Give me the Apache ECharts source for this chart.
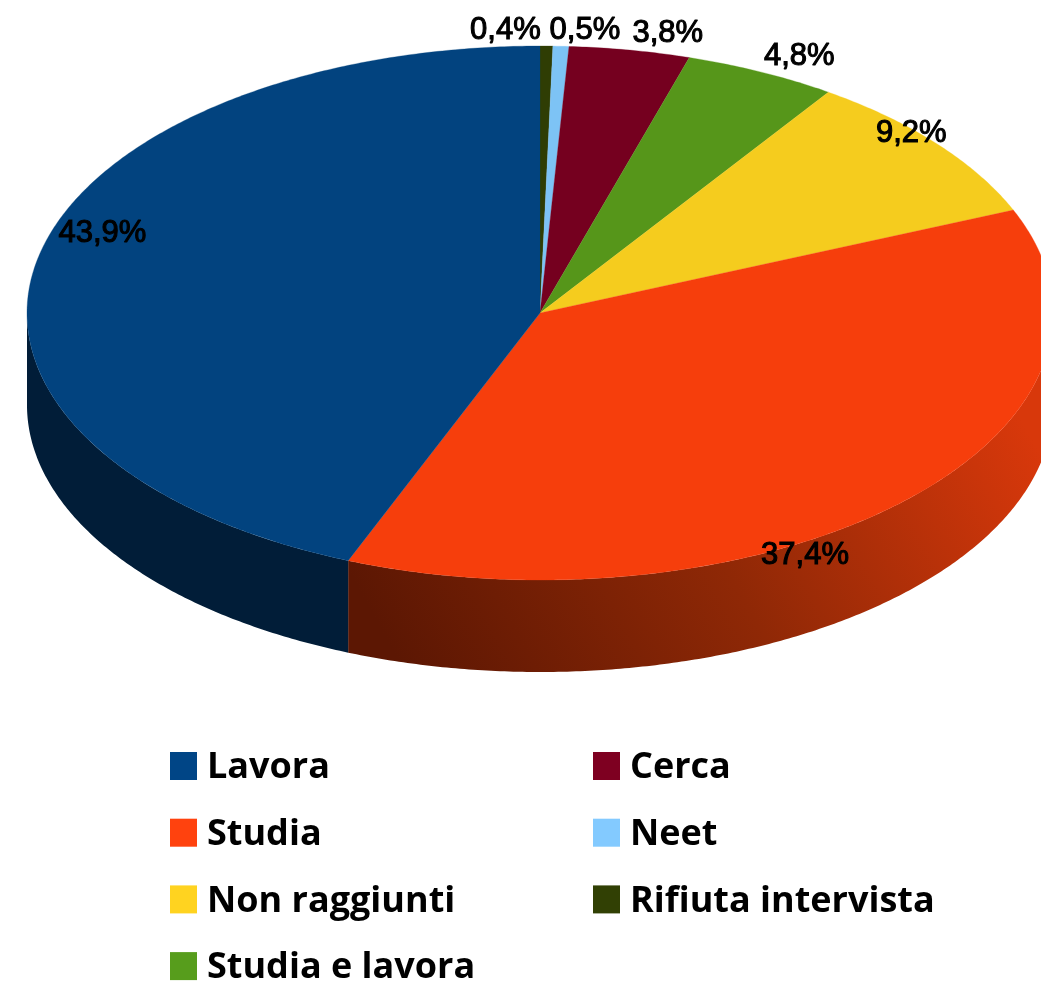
<!DOCTYPE html>
<html>
<head>
<meta charset="utf-8">
<style>html,body{margin:0;padding:0;background:#fff}#c{width:1041px;height:986px}</style>
<script src="https://cdn.jsdelivr.net/npm/echarts@6/dist/echarts.min.js"></script>
</head>
<body>
<div id="c"></div>
<script>
// Data, clockwise from 12 o'clock
const categories = ['Rifiuta intervista', 'Neet', 'Cerca', 'Studia e lavora', 'Non raggiunti', 'Studia', 'Lavora'];
const shares = [0.4, 0.5, 3.8, 4.8, 9.2, 37.4, 43.9];
const labels = ['0,4%', '0,5%', '3,8%', '4,8%', '9,2%', '37,4%', '43,9%'];
// Styles
const legendColors = ['#314004', '#83caff', '#7e0021', '#579d1c', '#ffd320', '#ff420e', '#004586'];
const topColors = ['#2f3d04', '#7dc3f5', '#75001f', '#56961a', '#f5cc1e', '#f63e0c', '#02437f'];
const wallColors = ['#1c2402', '#4a7391', '#450012', '#325a0f', '#917812', {
  type: 'linear', global: true, x: 420, y: 700, x2: 1000, y2: 380,
  colorStops: [{offset: 0, color: '#5c1703'}, {offset: 0.5, color: '#8f2806'}, {offset: 1, color: '#d8380b'}]
}, '#011d38'];
const labelNudgeX = [-41, 24, 38, 38, -26, -100, 66];
const labelNudgeY = [-16, -16, -17, -16, -11, 55, -29];
const legendLeft = ['Lavora', 'Studia', 'Non raggiunti', 'Studia e lavora'];
const legendRight = ['Cerca', 'Neet', 'Rifiuta intervista'];

// Pie geometry
const CX = 540, CY = 313, RX = 513, RY = 267, DEPTH = 92;
const total = shares.reduce((a, b) => a + b, 0);
const starts = shares.map((_, i) => shares.slice(0, i).reduce((a, b) => a + b, 0));

function pt(deg, dy) {
  const r = deg * Math.PI / 180;
  return [CX + RX * Math.sin(r), CY - RY * Math.cos(r) + (dy || 0)];
}
function arc(a0, a1, dy) {
  const out = [], n = Math.max(2, Math.ceil(Math.abs(a1 - a0) / 0.5));
  for (let k = 0; k <= n; k++) out.push(pt(a0 + (a1 - a0) * k / n, dy));
  return out;
}

function renderSlice(params, api) {
  const i = params.seriesIndex;
  const a0 = api.value(0) / total * 360;
  const a1 = a0 + api.value(1) / total * 360;
  const children = [];
  const w0 = Math.max(a0, 90), w1 = Math.min(a1, 270);
  if (w1 > w0) {
    children.push({
      type: 'polygon', z2: 1, silent: true,
      shape: {points: arc(w0, w1, 0).concat(arc(w1, w0, DEPTH))},
      style: {fill: wallColors[i], stroke: null}
    });
  }
  children.push({
    type: 'polygon', z2: 5, silent: true,
    shape: {points: [[CX, CY]].concat(arc(a0, a1, 0))},
    style: {fill: topColors[i], stroke: topColors[i], lineWidth: 0.3}
  });
  const m = pt((a0 + a1) / 2, 0);
  children.push({
    type: 'text', z2: 10, silent: true,
    x: m[0] + labelNudgeX[i], y: m[1] + labelNudgeY[i],
    style: {
      text: labels[i], fill: '#000', font: '31px "Liberation Sans"',
      stroke: '#000', lineWidth: 1.1,
      textAlign: 'center', textVerticalAlign: 'middle'
    }
  });
  return {type: 'group', children};
}

const legendFont = {fontFamily: '"Open Sans"', fontWeight: 'bold', fontSize: 36, color: '#000'};
const legendBase = {
  orient: 'vertical', itemWidth: 27, itemHeight: 28, itemGap: 30.7, icon: 'rect',
  selectedMode: false, padding: 0, height: 300,
  formatter: '{a|{name}}',
  textStyle: Object.assign({}, legendFont, {
    rich: {a: Object.assign({}, legendFont, {padding: [4, 0, 0, 5]})}
  })
};

const chart = echarts.init(document.getElementById('c'), null, {renderer: 'canvas'});
chart.setOption({
  animation: false,
  backgroundColor: '#fff',
  tooltip: {show: false},
  legend: [
    Object.assign({}, legendBase, {left: 170, top: 750, data: legendLeft}),
    Object.assign({}, legendBase, {left: 593, top: 750, data: legendRight})
  ],
  series: categories.map((name, i) => ({
    type: 'custom',
    name,
    coordinateSystem: 'none',
    renderItem: renderSlice,
    itemStyle: {color: legendColors[i]},
    data: [[starts[i], shares[i]]],
    silent: true
  }))
});
</script>
</body>
</html>
